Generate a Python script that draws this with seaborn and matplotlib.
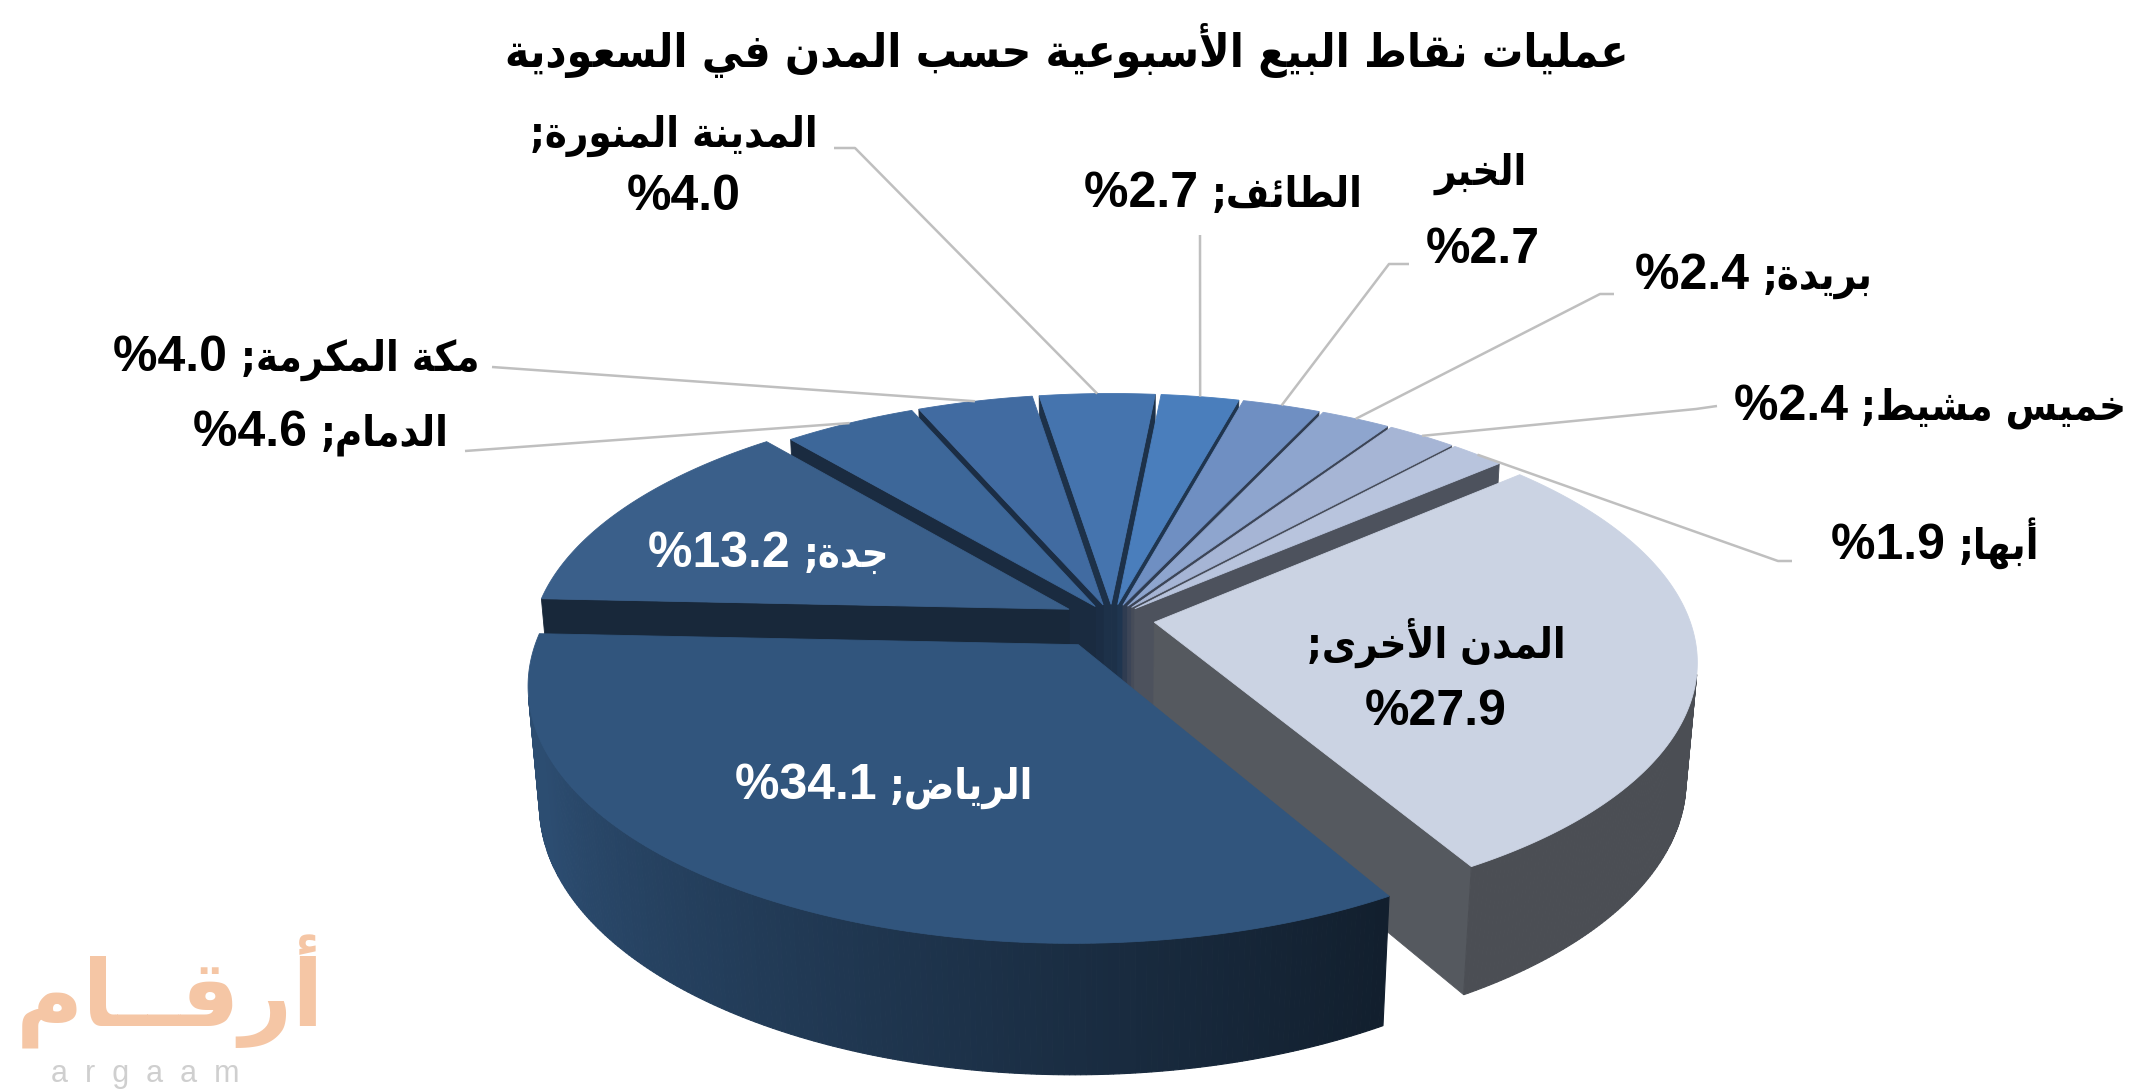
import numpy as np
import matplotlib
matplotlib.use("Agg")
import matplotlib.pyplot as plt
import matplotlib.colors as mcolors
from matplotlib.patches import Polygon
from matplotlib.offsetbox import TextArea, HPacker, AnnotationBbox
import seaborn as sns

# ---- data (pie order, clockwise from the Riyadh slice) ----
title = "عمليات نقاط البيع الأسبوعية حسب المدن في السعودية"
cities = ["الرياض", "جدة", "الدمام", "مكة المكرمة", "المدينة المنورة", "الطائف",
          "الخبر", "بريدة", "خميس مشيط", "أبها", "المدن الأخرى"]
shares = [34.1, 13.2, 4.6, 4.0, 4.0, 2.7, 2.7, 2.4, 2.4, 1.9, 27.9]

# ---- style ----
colors = ["#31557D", "#3A5F8A", "#3D6799", "#416BA1", "#4574AE", "#4A7EBC",
          "#6F8FC2", "#8EA5CE", "#A6B5D5", "#B8C4DD", "#CBD3E3"]
explode = [0.12, 0.09, 0.06, 0.06, 0.06, 0.06, 0.06, 0.06, 0.06, 0.06, 0.08]

sns.set_theme(style="white")
FAM = ["Liberation Sans", "DejaVu Sans"]
AR_FAM = ["DejaVu Sans"]
plt.rcParams["font.family"] = FAM

# ---- minimal arabic shaping (presentation forms + visual order) ----
_AR = {"ء": (0xFE80, 1), "آ": (0xFE81, 2), "أ": (0xFE83, 2), "ؤ": (0xFE85, 2), "إ": (0xFE87, 2),
       "ئ": (0xFE89, 4), "ا": (0xFE8D, 2), "ب": (0xFE8F, 4), "ة": (0xFE93, 2), "ت": (0xFE95, 4),
       "ث": (0xFE99, 4), "ج": (0xFE9D, 4), "ح": (0xFEA1, 4), "خ": (0xFEA5, 4), "د": (0xFEA9, 2),
       "ذ": (0xFEAB, 2), "ر": (0xFEAD, 2), "ز": (0xFEAF, 2), "س": (0xFEB1, 4), "ش": (0xFEB5, 4),
       "ص": (0xFEB9, 4), "ض": (0xFEBD, 4), "ط": (0xFEC1, 4), "ظ": (0xFEC5, 4), "ع": (0xFEC9, 4),
       "غ": (0xFECD, 4), "ف": (0xFED1, 4), "ق": (0xFED5, 4), "ك": (0xFED9, 4), "ل": (0xFEDD, 4),
       "م": (0xFEE1, 4), "ن": (0xFEE5, 4), "ه": (0xFEE9, 4), "و": (0xFEED, 2), "ى": (0xFEEF, 2),
       "ي": (0xFEF1, 4)}
_LAMALEF = {"آ": 0xFEF5, "أ": 0xFEF7, "إ": 0xFEF9, "ا": 0xFEFB}


def _joins_next(c):
    return c == "ـ" or (c in _AR and _AR[c][1] == 4)


def _is_ar(c):
    return c == "ـ" or c in _AR


def rtl(text):
    out = []
    i, n = 0, len(text)
    while i < n:
        c = text[i]
        jp = i > 0 and _joins_next(text[i - 1])
        if c == "ل" and i + 1 < n and text[i + 1] in _LAMALEF:
            out.append(chr(_LAMALEF[text[i + 1]] + (1 if jp else 0)))
            i += 2
            continue
        if c not in _AR:
            out.append(c)
            i += 1
            continue
        base, nf = _AR[c]
        jn = nf == 4 and i + 1 < n and _is_ar(text[i + 1])
        if nf == 1:
            f = 0
        elif jp and jn:
            f = 3
        elif jp:
            f = 1
        elif jn:
            f = 2
        else:
            f = 0
        out.append(chr(base + f))
        i += 1
    return "".join(reversed(out))


# ---- 3d projection ----
W, H = 2134, 1090
CX, CY, R = 1112, 619, 535
ALPHA = np.arcsin(0.46)
DIST = 6.0
THICK = 0.25
ROT = -2.5
ca, sa = np.cos(ALPHA), np.sin(ALPHA)
cam = np.array([0.0, -DIST * ca, DIST * sa])


def proj(x, y, z):
    d = y * ca - z * sa
    s = DIST / (DIST + d)
    return CX + R * x * s, CY - R * (y * sa + z * ca) * s


def rim(t, ox, oy, z):
    return proj(ox + np.cos(t), oy + np.sin(t), z)


def shade(c, f):
    r, g, b = mcolors.to_rgb(c)
    return (r * f, g * f, b * f)


def side_factor(t):
    d = np.degrees(t) % 360
    if d < 90:
        d += 360
    return float(np.clip(0.53 - (d - 270) * 0.0055, 0.37, 0.9))


fig = plt.figure(figsize=(W / 100, H / 100), dpi=100)
ax = fig.add_axes([0, 0, 1, 1])
ax.set_xlim(0, W)
ax.set_ylim(H, 0)
ax.axis("off")

total = sum(shares)
a = 180 + ROT + 360 * shares[0] / total
slices = []
for i, v in enumerate(shares):
    a1 = a - 360 * v / total
    t0, t1 = np.radians(a), np.radians(a1)
    mid = (t0 + t1) / 2
    ox, oy = explode[i] * np.cos(mid), explode[i] * np.sin(mid)
    slices.append(dict(i=i, t0=t0, t1=t1, mid=mid, ox=ox, oy=oy))
    a = a1

z = 1
for sl in sorted(slices, key=lambda s: -(s["oy"] + 0.5 * np.sin(s["mid"]))):
    i, t0, t1, ox, oy = sl["i"], sl["t0"], sl["t1"], sl["ox"], sl["oy"]
    col = colors[i]
    ts = np.linspace(t0, t1, max(int(abs(t0 - t1) / np.radians(0.5)), 3))
    # cut faces
    for ang, sign in ((t0, 1), (t1, -1)):
        nrm = sign * np.array([-np.sin(ang), np.cos(ang), 0.0])
        P = np.array([ox, oy, -THICK / 2])
        if np.dot(cam - P, nrm) > 0:
            pts = [proj(ox, oy, 0), rim(ang, ox, oy, 0), rim(ang, ox, oy, -THICK), proj(ox, oy, -THICK)]
            fc = shade(col, 0.42)
            ax.add_patch(Polygon(pts, closed=True, fc=fc, ec=fc, lw=0.6, zorder=z))
    # outer side
    for k in range(len(ts) - 1):
        tm = (ts[k] + ts[k + 1]) / 2
        P = np.array([ox + np.cos(tm), oy + np.sin(tm), -THICK / 2])
        nrm = np.array([np.cos(tm), np.sin(tm), 0.0])
        if np.dot(cam - P, nrm) <= 0:
            continue
        pts = [rim(ts[k], ox, oy, 0), rim(ts[k + 1], ox, oy, 0),
               rim(ts[k + 1], ox, oy, -THICK), rim(ts[k], ox, oy, -THICK)]
        fc = shade(col, side_factor(tm))
        ax.add_patch(Polygon(pts, closed=True, fc=fc, ec=fc, lw=0.8, zorder=z))
    # top face
    pts = [proj(ox, oy, 0)] + [rim(t, ox, oy, 0) for t in ts]
    ax.add_patch(Polygon(pts, closed=True, fc=col, ec=col, lw=0.6, zorder=z + 0.5))
    sl["anchor"] = rim(sl["mid"], ox, oy, 0)
    z += 1

# ---- labels ----
FS_NUM, FS_AR = 36, 30
num_props = dict(fontsize=FS_NUM, fontweight="bold", family=FAM)
ar_props = dict(fontsize=FS_AR, fontweight="bold", family=AR_FAM, fontstretch="condensed")
pct = ["%" + f"{v:.1f}" for v in shares]
label_layout = {
    0: ("one", [(884, 786)], "white", None),
    1: ("one", [(769, 554)], "white", None),
    2: ("one", [(321, 433)], "black", [(465, 451)]),
    3: ("one", [(296, 358)], "black", [(492, 367)]),
    4: ("two", [(674, 136), (684, 197)], "black", [(834, 148), (855, 148)]),
    5: ("one", [(1223, 194)], "black", [(1200, 235)]),
    6: ("two", [(1481, 174), (1483, 250)], "black", [(1409, 264), (1389, 264)]),
    7: ("one", [(1754, 276)], "black", [(1614, 294), (1600, 294)]),
    8: ("one", [(1930, 407)], "black", [(1717, 406), (1696, 409)]),
    9: ("one", [(1935, 543)], "black", [(1792, 561), (1778, 561)]),
    10: ("two", [(1436, 643), (1436, 712)], "black", None),
}
anchors = {sl["i"]: sl["anchor"] for sl in slices}
for i, (kind, pos, tc, elbow) in label_layout.items():
    if kind == "one":
        box = HPacker(children=[TextArea(pct[i] + " ", textprops=dict(color=tc, **num_props)),
                                TextArea(rtl(cities[i] + ";"), textprops=dict(color=tc, **ar_props))],
                      align="baseline", pad=0, sep=0)
        ab = AnnotationBbox(box, pos[0], xycoords="data", frameon=False,
                            box_alignment=(0.5, 0.5), pad=0, zorder=50)
        ax.add_artist(ab)
    else:
        name = cities[i] if i == 6 else cities[i] + ";"
        ax.text(*pos[0], rtl(name), ha="center", va="center", color=tc, zorder=50, **ar_props)
        ax.text(*pos[1], pct[i], ha="center", va="center", color=tc, zorder=50, **num_props)
    if elbow:
        xs = [p[0] for p in elbow] + [anchors[i][0]]
        ys = [p[1] for p in elbow] + [anchors[i][1]]
        ax.plot(xs, ys, color="#BFBFBF", lw=1.8, zorder=40, solid_capstyle="butt")

ax.text(1067, 50, rtl(title), ha="center", va="center", fontsize=33, fontweight="bold",
        color="black", family=AR_FAM, fontstretch="condensed", zorder=50)

# watermark
ax.text(170, 992, rtl("أرقــام"), ha="center", va="center", fontsize=66, fontweight="bold",
        color="#F5C6A5", family=AR_FAM, zorder=60)
ax.text(145, 1074, "a  r  g  a  a  m", ha="center", va="center", fontsize=22,
        color="#CFCFCF", family=FAM, zorder=60)

fig.savefig("out.png", dpi=100)
